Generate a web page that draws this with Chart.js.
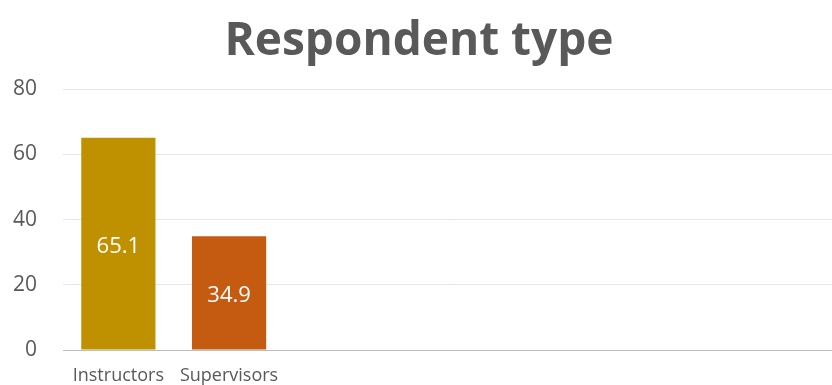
<!DOCTYPE html>
<html>
<head>
<meta charset="utf-8">
<script src="https://cdn.jsdelivr.net/npm/chart.js@4"></script>
<style>
  html, body { margin: 0; padding: 0; background: #fff; overflow: hidden; }
  #wrap { width: 838px; height: 385px; }
  canvas { display: block; }
</style>
</head>
<body>
<div id="wrap"><canvas id="respChart" width="838" height="385"></canvas></div>
<script>
// categories (the chart area continues past the picture's right edge, with empty slots)
var categories = ["Instructors", "Supervisors", "", "", "", "", ""];
var percents = [65.1, 34.9, null, null, null, null, null];
var barColors = ["#BF9000", "#C55A11", "#BF9000", "#BF9000", "#BF9000", "#BF9000", "#BF9000"];
var yTicks = [0, 20, 40, 60, 80];

// white value text in the middle of each bar
var barLabels = {
  id: "barLabels",
  afterDatasetsDraw: function (chart) {
    var ctx = chart.ctx;
    var meta = chart.getDatasetMeta(0);
    ctx.save();
    ctx.fillStyle = "#ffffff";
    ctx.font = "22px 'Open Sans'";
    ctx.textAlign = "center";
    ctx.textBaseline = "middle";
    meta.data.forEach(function (bar, i) {
      if (percents[i] == null) return;
      ctx.fillText(percents[i].toFixed(1), bar.x, (bar.y + bar.base) / 2 + 3);
    });
    ctx.restore();
  },
};

var ctx = document.getElementById("respChart");
var respChart = new Chart(ctx, {
  type: "bar",
  data: {
    labels: categories,
    datasets: [
      {
        label: "Respondent type",
        data: percents,
        backgroundColor: barColors,
        borderWidth: 0,
        categoryPercentage: 1,
        barPercentage: 0.67,
      },
    ],
  },
  plugins: [barLabels],
  options: {
    responsive: false,
    animation: false,
    layout: {
      padding: { left: 0, right: 0, top: 14, bottom: 0 },
    },
    plugins: {
      legend: { display: false },
      tooltip: { enabled: false },
      title: {
        display: true,
        text: "Respondent type",
        color: "#595959",
        font: { family: "'Open Sans'", size: 46, weight: "bold" },
        padding: { top: 0, bottom: 20 },
      },
    },
    scales: {
      x: {
        grid: { display: false, drawTicks: false },
        border: { color: "#bfbfbf", width: 1 },
        afterFit: function (axis) {
          axis.height = 35;
          axis.paddingTop = 0;
          axis.paddingBottom = 0;
        },
        ticks: {
          color: "#595959",
          font: { family: "'Open Sans'", size: 18, lineHeight: 1 },
          padding: 17,
          maxRotation: 0,
          autoSkip: false,
        },
      },
      y: {
        min: 0,
        max: 80,
        afterBuildTicks: function (axis) {
          axis.ticks = yTicks.map(function (v) { return { value: v }; });
        },
        afterFit: function (axis) {
          axis.width = 63;
          axis.paddingTop = 0;
          axis.paddingBottom = 0;
        },
        grid: { color: "#e6e6e6", lineWidth: 1, drawTicks: false },
        border: { display: false },
        ticks: {
          color: "#595959",
          font: { family: "'Open Sans'", size: 21 },
          padding: 26,
        },
      },
    },
  },
});
</script>
</body>
</html>
